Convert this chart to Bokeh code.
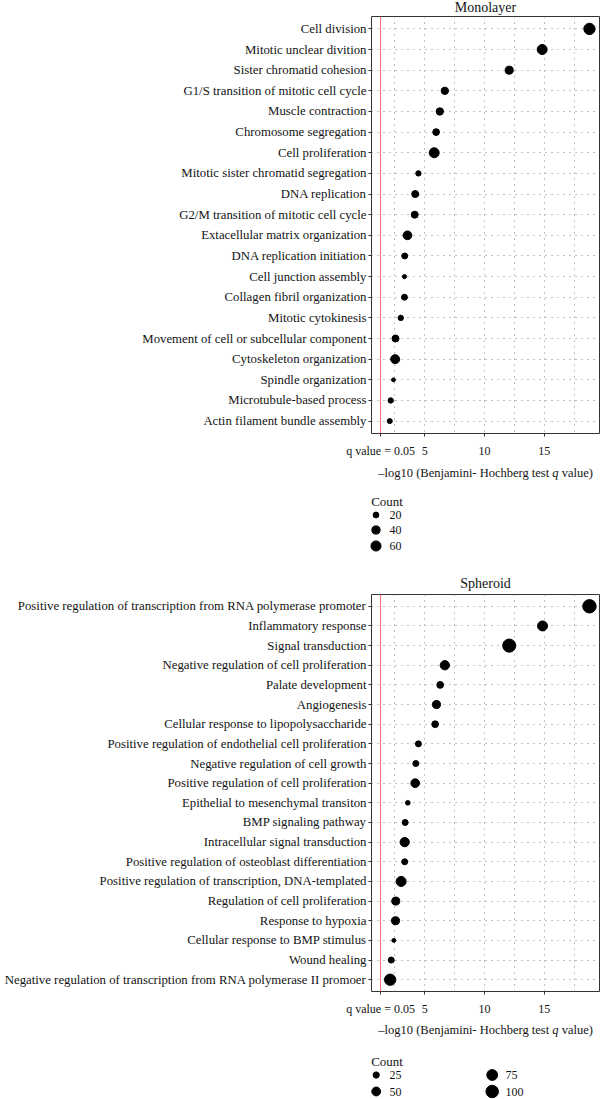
import math
from bokeh.plotting import figure
from bokeh.models import Range1d, FixedTicker, Span
from bokeh.layouts import column
from bokeh.embed import file_html
from bokeh.resources import INLINE
from bokeh.core.properties import value

# ---------------- data ----------------
mono_terms = [
    "Cell division",
    "Mitotic unclear divition",
    "Sister chromatid cohesion",
    "G1/S transition of mitotic cell cycle",
    "Muscle contraction",
    "Chromosome segregation",
    "Cell proliferation",
    "Mitotic sister chromatid segregation",
    "DNA replication",
    "G2/M transition of mitotic cell cycle",
    "Extacellular matrix organization",
    "DNA replication initiation",
    "Cell junction assembly",
    "Collagen fibril organization",
    "Mitotic cytokinesis",
    "Movement of cell or subcellular component",
    "Cytoskeleton organization",
    "Spindle organization",
    "Microtubule-based process",
    "Actin filament bundle assembly",
]
mono_logq = [18.79, 14.83, 12.07, 6.68, 6.26, 5.95, 5.79, 4.47, 4.20, 4.16,
             3.55, 3.32, 3.30, 3.30, 2.99, 2.55, 2.52, 2.38, 2.15, 2.07]
mono_count = [76, 59, 38, 32, 32, 27, 59, 17, 29, 29,
              45, 21, 10, 21, 17, 29, 48, 9, 17, 15]

sph_terms = [
    "Positive regulation of transcription from RNA polymerase promoter",
    "Inflammatory response",
    "Signal transduction",
    "Negative regulation of cell proliferation",
    "Palate development",
    "Angiogenesis",
    "Cellular response to lipopolysaccharide",
    "Positive regulation of endothelial cell proliferation",
    "Negative regulation of cell growth",
    "Positive regulation of cell proliferation",
    "Epithelial to mesenchymal transiton",
    "BMP signaling pathway",
    "Intracellular signal transduction",
    "Positive regulation of osteoblast differentiation",
    "Positive regulation of transcription, DNA-templated",
    "Regulation of cell proliferation",
    "Response to hypoxia",
    "Cellular response to BMP stimulus",
    "Wound healing",
    "Negative regulation of transcription from RNA polymerase II promoer",
]
sph_logq = [18.79, 14.86, 12.07, 6.68, 6.29, 5.98, 5.87, 4.47, 4.25, 4.20,
            3.58, 3.36, 3.32, 3.32, 3.02, 2.57, 2.55, 2.41, 2.19, 2.10]
sph_count = [115, 64, 110, 55, 29, 41, 29, 23, 23, 48,
             14, 23, 55, 23, 64, 41, 41, 10, 23, 82]

x_ticks = [5, 10, 15]
x_minor = [2.5, 7.5, 12.5, 17.5]
q_threshold = -math.log10(0.05)
q_tick_label = "q value = 0.05"
mono_legend_counts = [20, 40, 60]
sph_legend_counts = [25, 50, 75, 100]

# ---------------- styles / layout ----------------
FONT = "Liberation Serif"
TXT = "#141414"
GRID = "#858585"
W = 600
FRAME_LEFT = 371
FRAME_W = W - FRAME_LEFT - 1
FRAME_CX = FRAME_LEFT + FRAME_W / 2
X_RANGE = (0.54, 19.63)


def size_of(counts, k):
    return [k * math.sqrt(c) for c in counts]


def aux_fig(y0, y1):
    f = figure(width=W, height=y1 - y0, x_range=Range1d(0, W),
               y_range=Range1d(y1, y0), output_backend="svg",
               toolbar_location=None, x_axis_type=None, y_axis_type=None,
               min_border_left=0, min_border_right=0, min_border_top=0,
               min_border_bottom=0, frame_align=False)
    f.xgrid.visible = False
    f.ygrid.visible = False
    f.outline_line_color = None
    f.border_fill_color = "white"
    f.background_fill_color = "white"
    return f


def txt(f, x, y, s, size, align="left", style="normal"):
    f.text(x=[x], y=[y], text=[s], text_font=value(FONT), text_font_size=size,
           text_color=TXT, text_align=align, text_baseline="middle",
           text_font_style=style)


def header(y0, y1, title, ty):
    f = aux_fig(y0, y1)
    txt(f, FRAME_CX, ty, title, "14px", align="center")
    return f


def panel(terms, logq, counts, k, height, frame_h):
    n = len(terms)
    ys = list(range(1, n + 1))
    p = figure(width=W, height=height,
               x_range=Range1d(*X_RANGE), y_range=Range1d(n + 0.6, 0.4),
               output_backend="svg", toolbar_location=None,
               min_border_left=FRAME_LEFT, min_border_right=1,
               min_border_top=1, min_border_bottom=height - 1 - frame_h,
               frame_align=False)
    p.outline_line_color = "#333333"
    p.outline_line_width = 1
    p.background_fill_color = "white"
    p.border_fill_color = "white"

    p.xaxis.ticker = FixedTicker(ticks=[q_threshold] + x_ticks, minor_ticks=x_minor)
    p.xaxis.major_label_overrides = {q_threshold: q_tick_label}
    p.yaxis.ticker = FixedTicker(ticks=ys)
    p.yaxis.major_label_overrides = {y: t for y, t in zip(ys, terms)}
    for ax in (p.xaxis, p.yaxis):
        ax.axis_line_color = None
        ax.minor_tick_line_color = None
        ax.major_tick_line_color = "#333333"
        ax.major_tick_in = 0
        ax.major_tick_out = 3
        ax.major_label_text_font = FONT
        ax.major_label_text_color = TXT
    p.yaxis.major_label_text_font_size = "12.8px"
    p.yaxis.major_label_standoff = 2
    p.xaxis.major_label_text_font_size = "12px"
    p.xaxis.major_label_standoff = 6

    p.xgrid.ticker = FixedTicker(ticks=x_ticks, minor_ticks=x_minor)
    p.xgrid.grid_line_color = GRID
    p.xgrid.grid_line_dash = "1 5"
    p.xgrid.minor_grid_line_color = GRID
    p.xgrid.minor_grid_line_dash = "1 5"
    p.ygrid.grid_line_color = GRID
    p.ygrid.grid_line_dash = "1 5"

    p.add_layout(Span(location=q_threshold, dimension="height",
                      line_color="#f46a6a", line_width=1))
    p.scatter(x=logq, y=ys, size=size_of(counts, k), color="black")
    return p


def below(y0, y1, title_y, counts, k, count_xy, xs, ys, label_dx):
    f = aux_fig(y0, y1)
    # axis title with italic q
    qx = FRAME_CX + 66.8
    txt(f, qx - 3.1, title_y, "\u2013log10 (Benjamini- Hochberg test", "12.5px", align="right")
    txt(f, qx, title_y, "q", "12.5px", style="italic")
    txt(f, qx + 9.4, title_y, "value)", "12.5px")
    # size legend
    txt(f, count_xy[0], count_xy[1], "Count", "13px")
    f.scatter(x=xs, y=ys, size=size_of(counts, k), color="black")
    f.text(x=[x + label_dx for x in xs], y=ys, text=[str(c) for c in counts],
           text_font=value(FONT), text_font_size="12px", text_color=TXT,
           text_baseline="middle", text_align="left")
    return f


hA = header(0, 15, "Monolayer", 7)
pA = panel(mono_terms, mono_logq, mono_count, 1.3, height=445, frame_h=419)
bA = below(460, 570, 472, mono_legend_counts, 1.3, (370.7, 500.5),
           xs=[375.5, 375.5, 375.5], ys=[514.5, 529.5, 545.5], label_dx=13.5)
hC = header(570, 593, "Spheroid", 583)
pC = panel(sph_terms, sph_logq, sph_count, 1.25, height=425, frame_h=400)
bC = below(1018, 1099, 1029, sph_legend_counts, 1.25, (370.7, 1060.5),
           xs=[375.7, 375.7, 491.7, 491.7], ys=[1074.5, 1091, 1074.5, 1091],
           label_dx=13.3)

layout = column(hA, pA, bA, hC, pC, bC)
open("out.html", "w").write(file_html(layout, INLINE))
